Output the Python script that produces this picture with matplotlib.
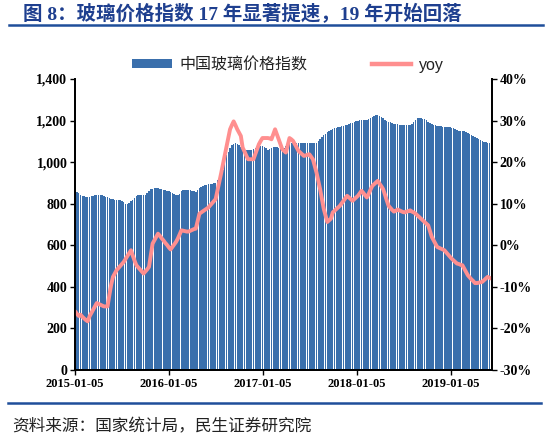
import matplotlib
matplotlib.use("Agg")
import matplotlib.pyplot as plt
import matplotlib.dates as mdates
from matplotlib.ticker import FuncFormatter, FixedLocator
from matplotlib.patches import Rectangle
from matplotlib.lines import Line2D
import pandas as pd

# ---------------- data (weekly, from 2015-01-05) ----------------
start_date = "2015-01-05"
index_values = [
    862, 858, 850, 842, 837, 835, 834, 834, 834, 836,
    838, 840, 842, 842, 842, 840, 836, 833, 831, 828,
    824, 821, 820, 819, 818, 818, 812, 806, 800, 797,
    805, 812, 818, 828, 838, 840, 841, 842, 842, 842,
    850, 862, 871, 873, 874, 875, 875, 872, 869, 866,
    864, 862, 860, 858, 852, 846, 842, 842, 845, 861,
    864, 865, 866, 866, 864, 862, 860, 858, 866, 874,
    882, 885, 889, 892, 895, 896, 897, 898, 898, 914,
    930, 946, 962, 1000, 1034, 1050, 1066, 1082, 1086, 1090,
    1088, 1082, 1074, 1066, 1063, 1060, 1058, 1058, 1060, 1063,
    1066, 1069, 1072, 1076, 1079, 1074, 1066, 1060, 1064, 1068,
    1071, 1074, 1071, 1068, 1065, 1062, 1070, 1077, 1083, 1087,
    1090, 1090, 1090, 1090, 1090, 1090, 1090, 1090, 1090, 1090,
    1090, 1090, 1090, 1090, 1090, 1100, 1111, 1122, 1130, 1137,
    1144, 1150, 1155, 1159, 1163, 1166, 1168, 1171, 1173, 1175,
    1178, 1181, 1184, 1187, 1190, 1194, 1197, 1200, 1203, 1203,
    1203, 1203, 1203, 1208, 1214, 1219, 1222, 1225, 1227, 1224,
    1218, 1210, 1203, 1199, 1195, 1191, 1187, 1185, 1184, 1182,
    1181, 1180, 1179, 1179, 1180, 1180, 1181, 1182, 1192, 1203,
    1214, 1213, 1211, 1209, 1207, 1201, 1195, 1188, 1182, 1180,
    1178, 1176, 1174, 1172, 1171, 1170, 1169, 1168, 1167, 1166,
    1162, 1158, 1154, 1150, 1150, 1150, 1150, 1145, 1140, 1136,
    1131, 1126, 1121, 1116, 1111, 1106, 1102, 1099, 1096, 1093,
    1090, 1088,
]
yoy_pct = [
    -15.9, -16.5, -17.0, -16.7, -17.2, -17.6, -18.0, -18.3, -17.1, -16.3,
    -15.5, -14.7, -13.9, -14.1, -14.3, -14.5, -14.7, -14.7, -14.7, -12.0,
    -9.5, -7.6, -6.8, -6.0, -5.5, -5.0, -4.5, -4.0, -3.3, -2.6,
    -1.9, -1.2, -2.5, -3.7, -4.8, -5.3, -5.8, -6.3, -6.8, -6.3,
    -5.8, -5.2, -2.4, 0.4, 1.2, 2.0, 2.8, 2.3, 1.7, 1.2,
    0.6, 0.1, -0.5, -1.0, -0.4, 0.2, 0.8, 1.6, 2.6, 3.6,
    3.5, 3.4, 3.3, 3.3, 3.5, 3.7, 3.9, 4.0, 5.8, 7.6,
    7.9, 8.2, 8.5, 8.8, 9.1, 9.6, 10.1, 10.6, 11.1, 13.1,
    15.1, 17.2, 19.4, 21.5, 23.6, 25.8, 27.9, 28.9, 29.8, 28.9,
    27.9, 27.1, 26.3, 23.5, 22.6, 21.6, 20.7, 20.7, 20.7, 20.7,
    21.9, 23.1, 24.3, 25.1, 25.8, 25.8, 25.8, 25.8, 25.7, 25.5,
    26.7, 27.9, 26.7, 25.5, 24.3, 23.1, 22.7, 22.3, 24.0, 25.8,
    25.5, 25.1, 24.3, 23.5, 22.7, 22.3, 21.9, 21.5, 21.6, 21.8,
    21.9, 21.3, 20.7, 19.1, 17.5, 15.5, 13.5, 11.1, 8.8, 7.2,
    5.6, 6.0, 6.4, 7.9, 8.3, 8.7, 9.1, 9.5, 10.1, 10.7,
    11.3, 11.9, 11.5, 11.1, 10.7, 11.1, 11.5, 11.9, 12.5, 13.1,
    12.6, 12.0, 11.5, 12.4, 13.4, 14.3, 14.7, 15.1, 15.5, 14.8,
    14.2, 13.5, 12.2, 10.8, 9.5, 9.0, 8.5, 8.1, 8.3, 8.6,
    8.4, 8.2, 8.0, 7.9, 8.1, 8.2, 8.4, 8.1, 7.9, 7.6,
    7.2, 6.8, 6.4, 6.0, 5.6, 5.2, 4.8, 3.4, 2.0, 1.2,
    0.4, -0.4, -0.6, -0.8, -1.0, -1.2, -1.7, -2.2, -2.7, -3.2,
    -3.6, -4.0, -4.4, -4.5, -4.7, -4.8, -5.6, -6.4, -7.2, -7.7,
    -8.2, -8.6, -9.1, -9.1, -9.0, -8.9, -8.8, -8.4, -8.0, -7.6,
    -7.8, -8.0,
]
tick_labels = ["2015-01-05", "2016-01-05", "2017-01-05", "2018-01-05", "2019-01-05"]
left_ticks = [0, 200, 400, 600, 800, 1000, 1200, 1400]
right_ticks = [-30, -20, -10, 0, 10, 20, 30, 40]
series_names = ["中国玻璃价格指数", "yoy"]
title_text = "图 8：玻璃价格指数 17 年显著提速，19 年开始回落"
source_text = "资料来源：国家统计局，民生证券研究院"

dates = pd.date_range(start_date, periods=len(index_values), freq="7D")

BAR_COLOR = "#3a6fac"
LINE_COLOR = "#ff8f8f"
DARK_BLUE = "#1f4e9a"

fig = plt.figure(figsize=(5.54, 4.42), dpi=100)
ax = fig.add_axes([75 / 554, 1 - 370 / 442, (492 - 75) / 554, (370 - 79) / 442])
ax2 = ax.twinx()

ax.bar(dates, index_values, width=5.6, color=BAR_COLOR, linewidth=0, align="center")
ax2.plot(dates, [v / 100 for v in yoy_pct], color=LINE_COLOR, linewidth=2.8, solid_capstyle="round")

ax.set_ylim(0, 1400)
ax2.set_ylim(-0.30, 0.40)
ax.set_xlim(pd.Timestamp(start_date) - pd.Timedelta(days=0.5), pd.Timestamp("2019-06-13"))

ax.yaxis.set_major_locator(FixedLocator(left_ticks))
ax.yaxis.set_major_formatter(FuncFormatter(lambda v, p: f"{v:,.0f}"))
ax2.yaxis.set_major_locator(FixedLocator([t / 100 for t in right_ticks]))
ax2.yaxis.set_major_formatter(FuncFormatter(lambda v, p: f"{round(v * 100):d}%"))
ax.set_xticks([mdates.date2num(pd.Timestamp(t)) for t in tick_labels])
ax.set_xticklabels(tick_labels)

tick_font = dict(family="Liberation Serif", weight="bold")
for lab in ax.get_xticklabels():
    lab.set_fontproperties(tick_font)
    lab.set_fontsize(9)
for lab in ax.get_yticklabels() + ax2.get_yticklabels():
    lab.set_fontproperties(tick_font)
    lab.set_fontsize(10)

for a in (ax, ax2):
    a.spines["top"].set_visible(False)
    for s in ("left", "right", "bottom"):
        a.spines[s].set_linewidth(1.3)
        a.spines[s].set_color("black")
ax.tick_params(axis="both", direction="out", length=3.5, width=1.0, colors="black", pad=2)
ax2.tick_params(axis="y", direction="out", length=3.5, width=1.0, colors="black", pad=2)
ax.set_zorder(1)
ax2.set_zorder(2)
ax.patch.set_visible(False)

# legend
handles = [Rectangle((0, 0), 1, 1, facecolor=BAR_COLOR, edgecolor="none"),
           Line2D([0], [0], color=LINE_COLOR, linewidth=3.2)]
leg = fig.legend(handles, series_names, loc="center", ncol=2, frameon=False,
                 bbox_to_anchor=(288 / 554, 1 - 65 / 442),
                 prop=dict(family=["Liberation Sans", "Noto Sans CJK SC"], size=11.5),
                 handlelength=2.5, handleheight=0.5, handletextpad=0.5, columnspacing=4.0)
for t in leg.get_texts():
    t.set_color("#222222")

# title and lines
fig.text(23 / 554, 1 - 14 / 442, title_text, fontsize=14, fontweight="bold",
         family=["Liberation Serif", "Noto Sans CJK SC"], color="#1e3f8f", va="center", ha="left")
fig.add_artist(Line2D([9 / 554, 543 / 554], [1 - 25 / 442, 1 - 25 / 442], color=DARK_BLUE,
                      linewidth=1.8, transform=fig.transFigure))
fig.add_artist(Line2D([8 / 554, 541 / 554], [1 - 403 / 442, 1 - 403 / 442], color=DARK_BLUE,
                      linewidth=1.8, transform=fig.transFigure))
fig.text(12 / 554, 1 - 427 / 442, source_text, fontsize=12, family=["Noto Sans CJK SC"],
         color="#222222", va="center", ha="left")

fig.savefig("out.png", dpi=100, facecolor="white")
